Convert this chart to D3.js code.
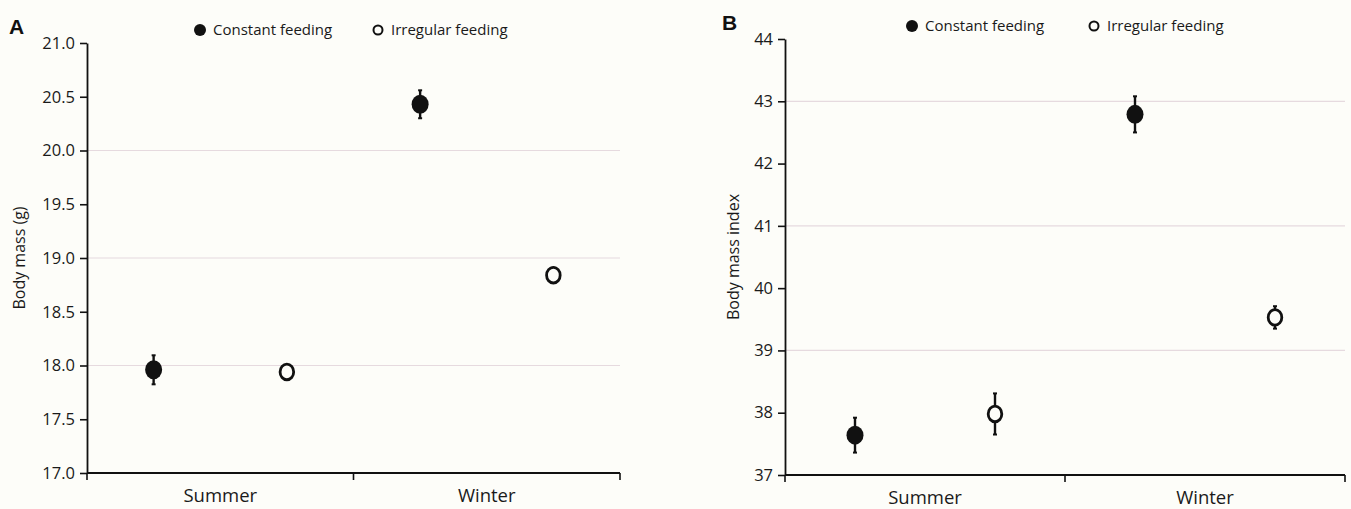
<!DOCTYPE html>
<html>
<head>
<meta charset="utf-8">
<script src="https://cdn.jsdelivr.net/npm/d3@7"></script>
<style>
  html, body { margin: 0; padding: 0; background: #fdfdf9; }
  svg { display: block; font-family: "Open Sans", sans-serif; }
</style>
</head>
<body>
<div class="chart-wrapper"></div>
<script>
// categories and series
const seasons = ['Summer', 'Winter'];
const seriesNames = ['Constant feeding', 'Irregular feeding'];

// panel A: body mass (g), mean and +/- error
const massConstant = [17.96, 20.43];
const massConstantErr = [0.135, 0.13];
const massIrregular = [17.94, 18.84];
const massIrregularErr = [0.05, 0.07];
const massTicks = [17.0, 17.5, 18.0, 18.5, 19.0, 19.5, 20.0, 20.5, 21.0];
const massGrid = [18, 19, 20];

// panel B: body mass index
const indexConstant = [37.64, 42.79];
const indexConstantErr = [0.28, 0.29];
const indexIrregular = [37.98, 39.53];
const indexIrregularErr = [0.33, 0.18];
const indexTicks = [37, 38, 39, 40, 41, 42, 43, 44];
const indexGrid = [39, 41, 43];

const W = 1351, H = 509;

const svg = d3.select('.chart-wrapper')
    .append('svg')
    .attr('width', W)
    .attr('height', H);

svg.append('rect').attr('width', W).attr('height', H).attr('fill', '#fdfdf9');

function drawPanel(opt) {
    const g = svg.append('g');

    const y = d3.scaleLinear().domain(opt.domain).range([opt.bottom, opt.top]);
    const x = d3.scaleBand().domain(seasons).range([opt.left, opt.right]).padding(0);
    // position of each series inside a season band
    const sub = d3.scaleBand().domain(seriesNames).range([0, x.bandwidth()]).padding(0);

    // gridlines
    g.selectAll('.grid')
        .data(opt.grid)
        .join('line')
        .attr('x1', opt.left).attr('x2', opt.right)
        .attr('y1', d => y(d)).attr('y2', d => y(d))
        .attr('stroke', '#e6dadf')
        .attr('stroke-width', 1.2);

    // y axis
    const yAxis = g.append('g')
        .attr('transform', `translate(${opt.left},0)`)
        .call(d3.axisLeft(y).tickValues(opt.ticks).tickFormat(d3.format(opt.fmt)).tickSize(7).tickSizeOuter(0));
    yAxis.select('.domain').attr('stroke', '#111').attr('stroke-width', 1.8);
    yAxis.selectAll('.tick line').attr('stroke', '#111').attr('stroke-width', 1.6);
    yAxis.selectAll('.tick text')
        .attr('font-size', 16.5).attr('fill', '#1a1a1a').attr('x', -12)
        .attr('font-family', '"Open Sans", sans-serif');

    // x axis: ticks at band edges, labels at band centres
    const edges = [opt.left, opt.left + x.bandwidth(), opt.right];
    g.append('line')
        .attr('x1', opt.left).attr('x2', opt.right)
        .attr('y1', opt.bottom).attr('y2', opt.bottom)
        .attr('stroke', '#111').attr('stroke-width', 1.8);
    g.selectAll('.xtick')
        .data(edges)
        .join('line')
        .attr('x1', d => d).attr('x2', d => d)
        .attr('y1', opt.bottom).attr('y2', opt.bottom + 7)
        .attr('stroke', '#111').attr('stroke-width', 1.6);
    g.selectAll('.xlabel')
        .data(seasons)
        .join('text')
        .attr('x', d => x(d) + x.bandwidth() / 2)
        .attr('y', opt.bottom + 29)
        .attr('text-anchor', 'middle')
        .attr('font-size', 18.5)
        .attr('fill', '#1a1a1a')
        .text(d => d);

    // y title
    g.append('text')
        .attr('transform', `translate(${opt.titleX},${(opt.top + opt.bottom) / 2}) rotate(-90)`)
        .attr('text-anchor', 'middle')
        .attr('font-size', 16)
        .attr('fill', '#1a1a1a')
        .text(opt.title);

    // panel letter
    g.append('text')
        .attr('x', opt.letterX).attr('y', opt.letterY)
        .attr('font-family', '"Liberation Sans", Arial, sans-serif')
        .attr('font-weight', 'bold')
        .attr('font-size', 21)
        .attr('fill', '#111')
        .text(opt.letter);

    // points with error bars
    const series = [
        {name: seriesNames[0], vals: opt.constant, errs: opt.constantErr, filled: true},
        {name: seriesNames[1], vals: opt.irregular, errs: opt.irregularErr, filled: false}
    ];
    series.forEach(s => {
        seasons.forEach((season, i) => {
            const cx = x(season) + sub(s.name) + sub.bandwidth() / 2;
            const v = s.vals[i], e = s.errs[i];
            g.append('line')
                .attr('x1', cx).attr('x2', cx)
                .attr('y1', y(v + e)).attr('y2', y(v - e))
                .attr('stroke', '#111').attr('stroke-width', 2.4);
            [v + e, v - e].forEach(c => {
                g.append('line')
                    .attr('x1', cx - 2).attr('x2', cx + 2)
                    .attr('y1', y(c)).attr('y2', y(c))
                    .attr('stroke', '#111').attr('stroke-width', 2);
            });
            if (s.filled) {
                g.append('ellipse')
                    .attr('cx', cx).attr('cy', y(v))
                    .attr('rx', 8.5).attr('ry', 9.5)
                    .attr('fill', '#111');
            } else {
                g.append('ellipse')
                    .attr('cx', cx).attr('cy', y(v))
                    .attr('rx', 6.8).attr('ry', 7.8)
                    .attr('fill', '#fdfdf9')
                    .attr('stroke', '#111').attr('stroke-width', 2.8);
            }
        });
    });

    // legend
    const lg = g.append('g');
    lg.append('circle')
        .attr('cx', opt.legendX[0]).attr('cy', opt.legendY)
        .attr('r', 6).attr('fill', '#111');
    lg.append('text')
        .attr('x', opt.legendX[0] + 13).attr('y', opt.legendY + 5)
        .attr('font-size', 15).attr('fill', '#1a1a1a')
        .text(seriesNames[0]);
    lg.append('circle')
        .attr('cx', opt.legendX[1]).attr('cy', opt.legendY)
        .attr('r', 4.5).attr('fill', 'none')
        .attr('stroke', '#111').attr('stroke-width', 2);
    lg.append('text')
        .attr('x', opt.legendX[1] + 13).attr('y', opt.legendY + 5)
        .attr('font-size', 15).attr('fill', '#1a1a1a')
        .text(seriesNames[1]);
}

drawPanel({
    left: 87, right: 620, top: 43, bottom: 473,
    domain: [17, 21], ticks: massTicks, grid: massGrid, fmt: '.1f',
    constant: massConstant, constantErr: massConstantErr,
    irregular: massIrregular, irregularErr: massIrregularErr,
    title: 'Body mass (g)', titleX: 25,
    letter: 'A', letterX: 9, letterY: 34,
    legendX: [200, 378], legendY: 30
});

drawPanel({
    left: 785, right: 1345, top: 39, bottom: 475,
    domain: [37, 44], ticks: indexTicks, grid: indexGrid, fmt: 'd',
    constant: indexConstant, constantErr: indexConstantErr,
    irregular: indexIrregular, irregularErr: indexIrregularErr,
    title: 'Body mass index', titleX: 739,
    letter: 'B', letterX: 722, letterY: 30,
    legendX: [912, 1094], legendY: 26
});
</script>
</body>
</html>
